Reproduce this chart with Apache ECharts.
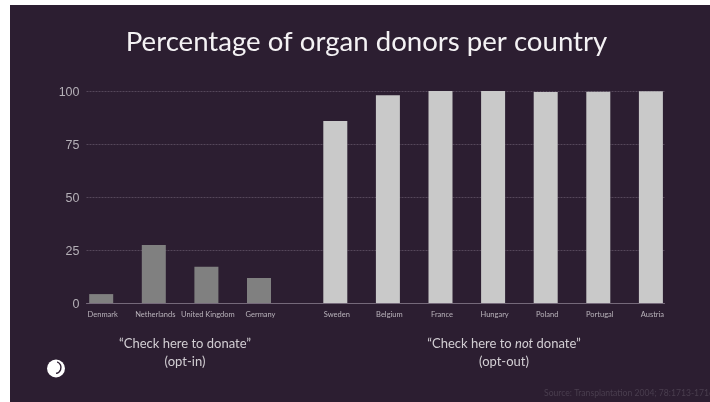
<!DOCTYPE html>
<html><head><meta charset="utf-8">
<style>
html,body{margin:0;padding:0;background:#fff;overflow:hidden}
#panel{position:absolute;left:10px;top:5px;width:700px;height:397px;background:#2c1e31}
#c{position:absolute;left:0;top:0;width:710px;height:402px}
</style>
<script src="https://cdn.jsdelivr.net/npm/echarts@6/dist/echarts.min.js"></script>
</head><body><div id="panel"></div><div id="c"></div>
<script>
const titleText = 'Percentage of organ donors per country';
const yTicks = [0, 25, 50, 75, 100];
const optInCountries = ['Denmark', 'Netherlands', 'United Kingdom', 'Germany'];
const optInValues = [4.2, 27.3, 17.1, 11.8];
const optOutCountries = ['Sweden', 'Belgium', 'France', 'Hungary', 'Poland', 'Portugal', 'Austria'];
const optOutValues = [85.9, 98, 100, 100, 99.5, 99.7, 99.9];
const sourceText = 'Source: Transplantation 2004; 78:1713-1716';

const font = 'Lato';
const gridTop = 91, gridBottom = 402 - 303;
const band = 52.6;
const catAxis = (i, data) => ({
  type: 'category', gridIndex: i, data,
  axisLine: {show: false}, axisTick: {show: false}, splitLine: {show: false},
  axisLabel: {color: '#b9b3bb', fontFamily: font, fontSize: 7.5, interval: 0, margin: 8, padding: [0, 0, 0, 3]}
});
const hiddenY = i => ({type: 'value', gridIndex: i, min: 0, max: 100, show: false});
const barSeries = (i, data, color) => ({
  type: 'bar', xAxisIndex: i, yAxisIndex: i, data, barWidth: 24,
  itemStyle: {color}, z: 5
});
const option = {
  animation: false,
  backgroundColor: 'transparent',
  title: {text: titleText, left: 361.5, top: 23, textAlign: 'center',
    textStyle: {color: '#f4f2f4', fontFamily: font, fontWeight: 400, fontSize: 27.6}},
  grid: [
    {left: 86.5, width: 578, top: gridTop, bottom: gridBottom},
    {left: 74.9, width: band * 4, top: gridTop, bottom: gridBottom},
    {left: 309, width: band * 7, top: gridTop, bottom: gridBottom}
  ],
  xAxis: [
    {type: 'value', gridIndex: 0, min: 0, max: 1,
      axisLine: {show: true, onZero: false, lineStyle: {color: '#75697a', width: 1}},
      axisTick: {show: false}, axisLabel: {show: false}, splitLine: {show: false}},
    catAxis(1, optInCountries),
    catAxis(2, optOutCountries)
  ],
  yAxis: [
    {type: 'value', gridIndex: 0, min: yTicks[0], max: yTicks[yTicks.length - 1], interval: yTicks[1] - yTicks[0],
      axisLine: {show: false}, axisTick: {show: false},
      axisLabel: {margin: 7, formatter: '{v|{value}}',
        rich: {v: {color: '#b5b0b7', fontFamily: 'Liberation Sans', fontSize: 12.5, padding: [4, 0, 0, 0]}}},
      splitLine: {show: true, lineStyle: {color: '#55475a', width: 1, type: [2, 1]}}},
    hiddenY(1), hiddenY(2)
  ],
  series: [
    barSeries(1, optInValues, '#808080'),
    barSeries(2, optOutValues, '#c9c9c9')
  ],
  graphic: [
    {type: 'text', x: 185, y: 344, style: {text: '“Check here to donate”', fill: '#d2ced3', font: '13px Lato', textAlign: 'center', textVerticalAlign: 'middle'}},
    {type: 'text', x: 185, y: 362, style: {text: '(opt-in)', fill: '#d2ced3', font: '13px Lato', textAlign: 'center', textVerticalAlign: 'middle'}},
    {type: 'text', x: 504, y: 344, style: {
      text: '{a|“Check here to }{b|not}{a| donate”}', textAlign: 'center', textVerticalAlign: 'middle',
      rich: {a: {fill: '#d2ced3', font: '13px Lato'}, b: {fill: '#d2ced3', font: 'italic 13px Lato'}}}},
    {type: 'text', x: 504, y: 362, style: {text: '(opt-out)', fill: '#d2ced3', font: '13px Lato', textAlign: 'center', textVerticalAlign: 'middle'}},
    {type: 'text', x: 544, y: 393, style: {text: sourceText, fill: '#4a3e4f', font: '8.6px Lato', textAlign: 'left', textVerticalAlign: 'middle'}},
    {type: 'circle', shape: {cx: 56, cy: 368.5, r: 9}, style: {fill: '#ffffff'}},
    {type: 'arc', shape: {cx: 55, cy: 367.5, r: 6, startAngle: -1.2, endAngle: 1.4, clockwise: true}, style: {fill: 'none', stroke: '#2c1e31', lineWidth: 1.4}}
  ]
};
echarts.init(document.getElementById('c'), null, {renderer: 'canvas'}).setOption(option);
</script></body></html>
